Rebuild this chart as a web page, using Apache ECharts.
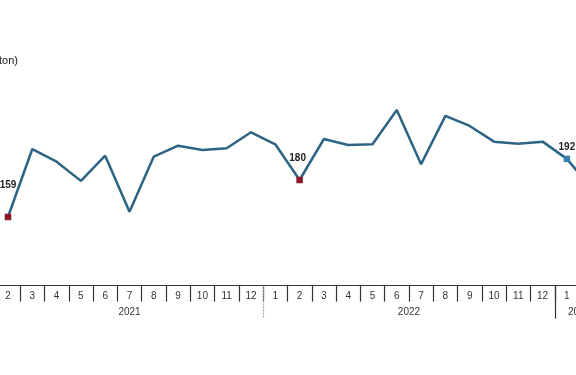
<!DOCTYPE html>
<html>
<head>
<meta charset="utf-8">
<style>html,body{margin:0;padding:0;background:#fff;}#c{width:576px;height:375px;}</style>
<script src="https://cdn.jsdelivr.net/npm/echarts@6/dist/echarts.min.js"></script>
</head>
<body>
<div id="c"></div>
<script>
const monthLabels = ['2','3','4','5','6','7','8','9','10','11','12',
  '1','2','3','4','5','6','7','8','9','10','11','12',
  '1','2'];
const values = [159, 197.6, 190.4, 179.5, 193.8, 162, 193.3, 199.5, 197.1, 198, 207.1,
  200.3, 180, 203.3, 199.9, 200.3, 219.8, 189, 216.4, 210.7, 201.8, 200.6, 201.8,
  192, 175.5];
const yearLabels = ['2021', '2022', '2023'];
const yearMonthCounts = [11, 12, 2];
const highlighted = [0, 12, 23];
const yAxisTitle = '(Bin ton)';

const hiColors = {0: '#8b1a2e', 12: '#8b1a2e', 23: '#3a7fa8'};
const labelOffsets = {0: [0, -18], 12: [-2, -9], 23: [0, 2]};

// year spans
const yearCenters = [], yearDividers = [];
let acc = 0;
yearMonthCounts.forEach((n, i) => {
  yearCenters.push(acc + n / 2);
  acc += n;
  if (i < yearMonthCounts.length - 1) yearDividers.push(acc);
});

const seriesData = values.map((v, i) => {
  if (highlighted.includes(i)) {
    return {
      value: v,
      symbol: 'rect',
      symbolSize: 6.5,
      itemStyle: {color: hiColors[i]},
      label: {
        show: true, position: 'top', offset: labelOffsets[i],
        formatter: () => String(Math.round(v)),
        fontFamily: 'Liberation Sans, Arial', fontWeight: 'bold', fontSize: 10, color: '#222'
      }
    };
  }
  return {value: v, symbol: 'none'};
});

const chart = echarts.init(document.getElementById('c'), null, {renderer: 'canvas'});
const gridLeft = -4.15, catW = 24.3;
const n = monthLabels.length;
const gridRight = 576 - (gridLeft + n * catW);
chart.setOption({
  animation: false,
  backgroundColor: '#fff',
  grid: {left: gridLeft, right: gridRight, top: 74.4, bottom: 89.4, containLabel: false, outerBoundsMode: 'none'},
  graphic: [{
    type: 'text', x: 18, y: 61,
    style: {text: yAxisTitle, align: 'right', verticalAlign: 'middle',
      font: '11px "Liberation Sans", Arial', fill: '#222'}
  }],
  xAxis: [
    {
      type: 'category', data: monthLabels, boundaryGap: true, position: 'bottom',
      axisLine: {show: true, lineStyle: {color: '#333', width: 1}},
      axisTick: {show: true, length: 16, lineStyle: {color: '#333', width: 1.2}},
      axisLabel: {show: true, margin: 6, fontSize: 10, color: '#333', fontFamily: 'Liberation Sans, Arial', interval: 0},
      splitLine: {show: false}
    },
    {
      type: 'value', min: 0, max: n, position: 'bottom',
      axisLine: {show: false},
      axisTick: {show: true, length: 33, customValues: [yearDividers[1]], lineStyle: {color: '#333', width: 1.2}},
      axisLabel: {show: true, margin: 22, customValues: yearCenters,
        formatter: (val) => yearLabels[yearCenters.findIndex(c => Math.abs(c - val) < 1e-6)] || '',
        fontSize: 10, color: '#333', fontFamily: 'Liberation Sans, Arial'},
      splitLine: {show: false}
    },
    {
      type: 'value', min: 0, max: n, position: 'bottom',
      axisLine: {show: false},
      axisTick: {show: true, length: 33, customValues: [yearDividers[0]], lineStyle: {color: '#aaa', width: 1.2, type: [2, 1]}},
      axisLabel: {show: false},
      splitLine: {show: false}
    }
  ],
  yAxis: {
    type: 'value', min: 120, max: 240, show: false, splitLine: {show: false}
  },
  series: [{
    type: 'line', xAxisIndex: 0, data: seriesData,
    lineStyle: {color: '#2d6384', width: 2.5},
    itemStyle: {color: '#2d6384'},
    showAllSymbol: true, clip: false, z: 3
  }]
});
</script>
</body>
</html>
